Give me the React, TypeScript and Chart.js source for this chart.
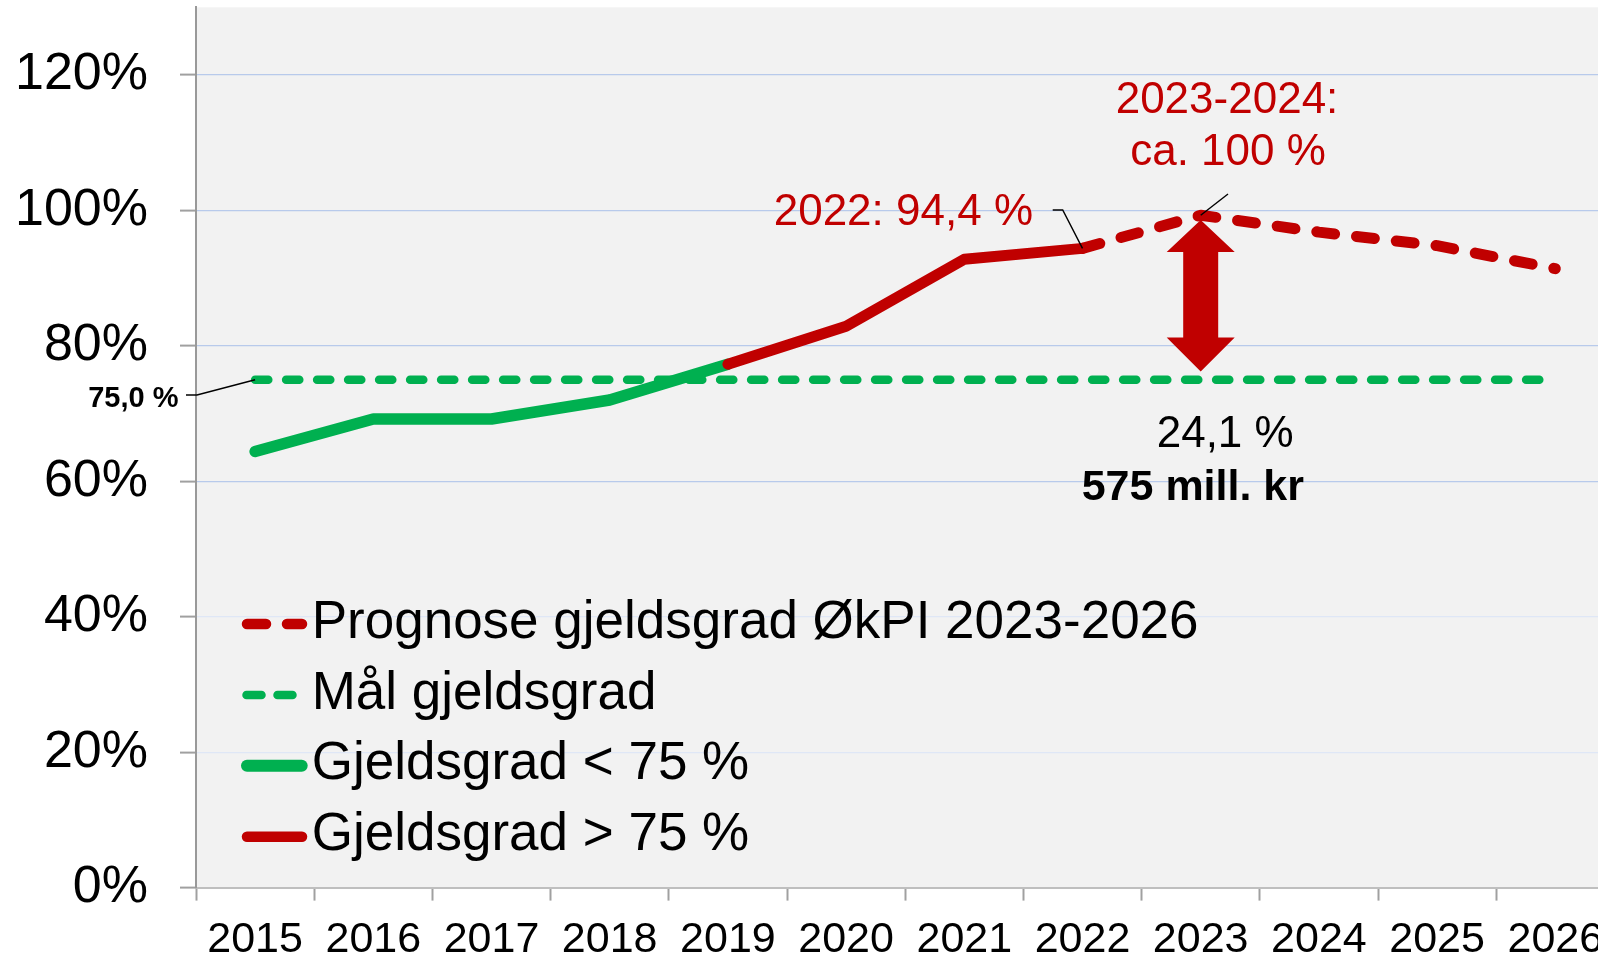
import React, { useEffect, useRef } from 'react';
import { Chart, registerables } from 'chart.js';

Chart.register(...registerables);

// ---------- data ----------
const years = ['2015', '2016', '2017', '2018', '2019', '2020', '2021', '2022', '2023', '2024', '2025', '2026'];
const prognose = [null, null, null, null, null, null, null, 94.4, 99.3, 96.8, 94.8, 91.4];
const maal = [75, 75, 75, 75, 75, 75, 75, 75, 75, 75, 75, 75];
const under75 = [64.4, 69.2, 69.2, 72.0, 77.3, null, null, null, null, null, null, null];
const over75 = [null, null, null, null, 77.3, 82.9, 92.8, 94.4, null, null, null, null];

const seriesLabels = [
  'Prognose gjeldsgrad ØkPI 2023-2026',
  'Mål gjeldsgrad',
  'Gjeldsgrad < 75 %',
  'Gjeldsgrad > 75 %',
];

const yMin = 0;
const yMax = 130;
const yStep = 20;
const yLastTick = 120;

// annotation values
const targetLabel = '75,0 %';
const label2022 = '2022: 94,4 %';
const value2022 = 94.4;
const idx2022 = 7;
const labelPeakLines = ['2023-2024:', 'ca. 100 %'];
const peakValue = 99.3;
const idxPeak = 8;
const arrowTop = 98.6;
const arrowBottom = 76.2;
const gapPct = '24,1 %';
const gapAmount = '575 mill. kr';

// ---------- styles ----------
const RED = '#c00000';
const GREEN = '#00b050';
const FONT = '"Liberation Sans", Arial, Helvetica, sans-serif';

const CANVAS_W = 1640;
const CANVAS_H = 960;

const bgPlugin = {
  id: 'plotBg',
  beforeDraw(chart: any) {
    const { ctx, chartArea } = chart;
    ctx.save();
    ctx.fillStyle = '#f2f2f2';
    ctx.fillRect(chartArea.left, chartArea.top, chartArea.right - chartArea.left, chartArea.bottom - chartArea.top);
    ctx.restore();
  },
};

const arrowPlugin = {
  id: 'gapArrow',
  beforeDatasetsDraw(chart: any) {
    const { ctx, scales } = chart;
    const x = scales.x.getPixelForValue(idxPeak);
    const yT = scales.y.getPixelForValue(arrowTop);
    const yB = scales.y.getPixelForValue(arrowBottom);
    const headLenT = 32;
    const headLenB = 34;
    const headHalf = 34;
    const shaftHalf = 17.5;
    ctx.save();
    ctx.fillStyle = RED;
    ctx.beginPath();
    ctx.moveTo(x, yT);
    ctx.lineTo(x + headHalf, yT + headLenT);
    ctx.lineTo(x + shaftHalf, yT + headLenT);
    ctx.lineTo(x + shaftHalf, yB - headLenB);
    ctx.lineTo(x + headHalf, yB - headLenB);
    ctx.lineTo(x, yB);
    ctx.lineTo(x - headHalf, yB - headLenB);
    ctx.lineTo(x - shaftHalf, yB - headLenB);
    ctx.lineTo(x - shaftHalf, yT + headLenT);
    ctx.lineTo(x - headHalf, yT + headLenT);
    ctx.closePath();
    ctx.fill();
    ctx.restore();
  },
};

const annotationPlugin = {
  id: 'annotations',
  afterDatasetsDraw(chart: any) {
    const { ctx, scales } = chart;
    const xS = scales.x;
    const yS = scales.y;
    ctx.save();

    // 75,0 % label with leader
    const tx = xS.getPixelForValue(0);
    const ty = yS.getPixelForValue(maal[0]);
    ctx.font = `bold 29px ${FONT}`;
    ctx.fillStyle = '#000';
    ctx.textAlign = 'right';
    ctx.textBaseline = 'alphabetic';
    ctx.fillText(targetLabel, 178.5, 406.7);
    ctx.strokeStyle = '#000';
    ctx.lineWidth = 1.4;
    ctx.beginPath();
    ctx.moveTo(186, 395);
    ctx.lineTo(197, 395);
    ctx.lineTo(tx, ty);
    ctx.stroke();

    // 2022 label
    const p22x = xS.getPixelForValue(idx2022);
    const p22y = yS.getPixelForValue(value2022);
    ctx.font = `44px ${FONT}`;
    ctx.fillStyle = RED;
    ctx.textAlign = 'right';
    ctx.fillText(label2022, 1033, 225);
    ctx.beginPath();
    ctx.moveTo(1052.7, 210);
    ctx.lineTo(1062.7, 210);
    ctx.lineTo(p22x, p22y);
    ctx.stroke();

    // peak label
    const ppx = xS.getPixelForValue(idxPeak);
    const ppy = yS.getPixelForValue(peakValue);
    ctx.textAlign = 'center';
    ctx.fillText(labelPeakLines[0], 1227, 112.7);
    ctx.fillText(labelPeakLines[1], 1228, 165);
    ctx.beginPath();
    ctx.moveTo(1228, 194);
    ctx.lineTo(ppx, ppy);
    ctx.stroke();

    // gap labels
    ctx.fillStyle = '#000';
    ctx.textAlign = 'left';
    ctx.font = `44px ${FONT}`;
    ctx.fillText(gapPct, 1156.7, 446.7);
    ctx.font = `bold 43px ${FONT}`;
    ctx.fillText(gapAmount, 1081.7, 500);

    ctx.restore();
  },
};

const legendPlugin = {
  id: 'insideLegend',
  afterDatasetsDraw(chart: any) {
    const { ctx } = chart;
    const rows = [624, 695, 765.7, 836.7];
    ctx.save();
    ctx.lineCap = 'round';
    // sample 0: red dashed
    ctx.strokeStyle = RED;
    ctx.lineWidth = 10.5;
    ctx.beginPath();
    ctx.moveTo(247, rows[0]);
    ctx.lineTo(266, rows[0]);
    ctx.moveTo(287, rows[0]);
    ctx.lineTo(302, rows[0]);
    ctx.stroke();
    // sample 1: green dashed
    ctx.strokeStyle = GREEN;
    ctx.lineWidth = 8.5;
    ctx.beginPath();
    ctx.moveTo(246.5, rows[1]);
    ctx.lineTo(261.5, rows[1]);
    ctx.moveTo(277.5, rows[1]);
    ctx.lineTo(292.5, rows[1]);
    ctx.stroke();
    // sample 2: green solid
    ctx.lineWidth = 12;
    ctx.beginPath();
    ctx.moveTo(247, rows[2]);
    ctx.lineTo(301.7, rows[2]);
    ctx.stroke();
    // sample 3: red solid
    ctx.strokeStyle = RED;
    ctx.lineWidth = 10.5;
    ctx.beginPath();
    ctx.moveTo(247, rows[3]);
    ctx.lineTo(302, rows[3]);
    ctx.stroke();

    ctx.font = `53px ${FONT}`;
    ctx.fillStyle = '#000';
    ctx.textAlign = 'left';
    ctx.textBaseline = 'middle';
    chart.data.datasets.forEach((ds: any, i: number) => {
      ctx.fillText(ds.label, 311.7, rows[i] - 1);
    });
    ctx.restore();
  },
};

export default function App() {
  const canvasRef = useRef<HTMLCanvasElement | null>(null);

  useEffect(() => {
    if (!canvasRef.current) return;
    const chart = new Chart(canvasRef.current, {
      type: 'line',
      data: {
        labels: years,
        datasets: [
          {
            label: seriesLabels[0],
            data: prognose,
            borderColor: RED,
            borderWidth: 11,
            borderDash: [18, 22],
            borderCapStyle: 'round',
            borderJoinStyle: 'round',
            pointRadius: 0,
            tension: 0,
            spanGaps: false,
            order: 0,
          },
          {
            label: seriesLabels[1],
            data: maal,
            borderColor: GREEN,
            borderWidth: 8.5,
            borderDash: [13.2, 17.8],
            borderCapStyle: 'round',
            pointRadius: 0,
            tension: 0,
            order: 3,
          },
          {
            label: seriesLabels[2],
            data: under75,
            borderColor: GREEN,
            borderWidth: 11.5,
            borderCapStyle: 'round',
            borderJoinStyle: 'round',
            pointRadius: 0,
            tension: 0,
            order: 2,
          },
          {
            label: seriesLabels[3],
            data: over75,
            borderColor: RED,
            borderWidth: 11,
            borderCapStyle: 'round',
            borderJoinStyle: 'round',
            pointRadius: 0,
            tension: 0,
            order: 1,
          },
        ] as any,
      },
      options: {
        responsive: false,
        animation: false,
        maintainAspectRatio: false,
        layout: { padding: { top: 7.3, right: CANVAS_W - 1614.4, bottom: 0, left: 0 } },
        plugins: {
          legend: { display: false },
          tooltip: { enabled: false },
          title: { display: false },
        },
        scales: {
          x: {
            type: 'category',
            offset: true,
            grid: {
              offset: true,
              drawOnChartArea: false,
              drawTicks: true,
              tickLength: 13,
              tickColor: '#a0a0a0',
              tickWidth: 2,
            },
            border: { display: true, color: '#bfbfbf', width: 2 },
            ticks: {
              autoSkip: false,
              maxRotation: 0,
              minRotation: 0,
              padding: 14,
              color: '#000',
              font: { family: FONT, size: 43 },
            },
            afterFit(scale: any) {
              scale.height = CANVAS_H - 887.6;
              scale.paddingLeft = 0;
              scale.paddingRight = 0;
            },
          },
          y: {
            type: 'linear',
            min: yMin,
            max: yMax,
            afterBuildTicks(scale: any) {
              scale.ticks = scale.ticks.filter((t: any) => t.value <= yLastTick);
            },
            grid: {
              color: (c: any) => {
                const v = c.tick ? c.tick.value : 0;
                if (v === 0) return 'rgba(0,0,0,0)';
                return v <= 40 ? '#dfe7f6' : '#b8caeb';
              },
              lineWidth: 1.2,
              borderDash: [4, 2],
              tickBorderDash: [],
              drawTicks: true,
              tickLength: 16,
              tickColor: '#a0a0a0',
              tickWidth: 2,
            },
            border: { display: true, color: '#999999', width: 2 },
            ticks: {
              stepSize: yStep,
              padding: 32,
              color: '#000',
              font: { family: FONT, size: 52 },
              callback: (v: any) => `${v}%`,
            },
            afterFit(scale: any) {
              scale.width = 196;
              scale.paddingTop = 0;
              scale.paddingBottom = 0;
            },
          },
        },
      } as any,
      plugins: [bgPlugin, arrowPlugin, annotationPlugin, legendPlugin],
    });
    return () => chart.destroy();
  }, []);

  return (
    <div
      style={{
        position: 'absolute',
        left: 0,
        top: 0,
        width: 1598,
        height: 960,
        overflow: 'hidden',
        background: '#fff',
      }}
    >
      <canvas
        ref={canvasRef}
        width={CANVAS_W}
        height={CANVAS_H}
        style={{ display: 'block', width: CANVAS_W, height: CANVAS_H }}
      />
    </div>
  );
}
